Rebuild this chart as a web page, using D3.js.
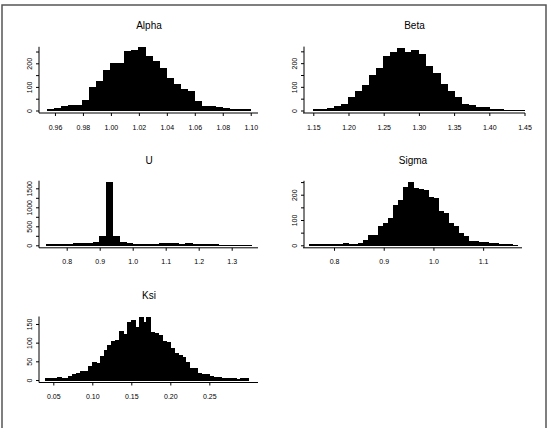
<!DOCTYPE html>
<html>
<head>
<meta charset="utf-8">
<script src="https://cdn.jsdelivr.net/npm/d3@7"></script>
<style>
  html, body { margin: 0; padding: 0; background: #fff; }
  svg { display: block; }
  text { font-family: "Liberation Sans", Arial, sans-serif; fill: #000; }
</style>
</head>
<body>
<svg id="chart" width="549" height="428"></svg>
<script>
// ---------------- DATA (bin counts) ----------------
const alphaStart = 0.955, alphaWidth = 0.005;
const alphaCounts = [4, 8, 18, 23, 23, 44, 96, 121, 168, 201, 201, 251, 255, 266, 230,
  206, 177, 135, 111, 89, 79, 37, 18, 15, 13, 8, 6, 4, 3];
const alphaXTicks = [0.96, 0.98, 1.00, 1.02, 1.04, 1.06, 1.08, 1.10];
const alphaYTicks = [0, 50, 100, 150, 200, 250];
const alphaYLabels = [0, 100, 200];

const betaStart = 1.15, betaWidth = 0.01;
const betaCounts = [3, 5, 7, 17, 26, 57, 79, 107, 150, 179, 229, 243, 264, 245, 255,
  236, 186, 157, 111, 79, 54, 26, 20, 14, 11, 4, 3, 2, 2, 1];
const betaXTicks = [1.15, 1.20, 1.25, 1.30, 1.35, 1.40, 1.45];
const betaYTicks = [0, 50, 100, 150, 200, 250];
const betaYLabels = [0, 100, 200];

const uStart = 0.74, uWidth = 0.02;
const uCounts = [10, 10, 12, 20, 50, 35, 40, 70, 230, 1640, 230, 70, 45, 15, 10, 15,
  25, 40, 55, 45, 30, 50, 30, 20, 15, 8, 5, 5, 3, 3, 2];
const uXTicks = [0.8, 0.9, 1.0, 1.1, 1.2, 1.3];
const uYTicks = [0, 250, 500, 750, 1000, 1250, 1500];
const uYLabels = [0, 500, 1000, 1500];

const sigmaStart = 0.75, sigmaWidth = 0.01;
const sigmaCounts = [4, 4, 4, 4, 3, 4, 5, 8, 5, 5, 6, 20, 40, 40, 73, 88, 104, 157, 177,
  230, 248, 226, 222, 216, 190, 184, 133, 124, 86, 75, 47, 33, 16, 15, 11, 12, 8, 6, 4, 3, 2, 1];
const sigmaXTicks = [0.8, 0.9, 1.0, 1.1];
const sigmaYTicks = [0, 50, 100, 150, 200, 250];
const sigmaYLabels = [0, 100, 200];

const ksiStart = 0.04, ksiWidth = 0.005;
const ksiCounts = [3, 3, 5, 6, 4, 5, 10, 16, 18, 22, 24, 35, 48, 45, 62, 80, 92, 103,
  105, 130, 123, 155, 160, 140, 168, 155, 168, 128, 125, 120, 102, 100, 85, 70, 65, 60,
  48, 32, 30, 18, 16, 14, 10, 8, 6, 5, 4, 3, 3, 2, 3, 4];
const ksiXTicks = [0.05, 0.10, 0.15, 0.20, 0.25];
const ksiYTicks = [0, 50, 100, 150];
const ksiYLabels = [0, 50, 100, 150];

// ---------------- LAYOUT ----------------
const svg = d3.select("#chart");

svg.append("rect")
  .attr("x", 2).attr("y", 5).attr("width", 544).attr("height", 430)
  .attr("fill", "none").attr("stroke", "#555").attr("stroke-width", 1.5);

const panels = [
  { title: "Alpha", start: alphaStart, width: alphaWidth, counts: alphaCounts,
    xTicks: alphaXTicks, yTicks: alphaYTicks, yLabels: alphaYLabels, fmt: d3.format(".2f"),
    px: [40, 258], dom: [0.9493, 1.1052], base: 110.5, yDom: 270, yTop: 46.8, axisX: 39 },
  { title: "Beta", start: betaStart, width: betaWidth, counts: betaCounts,
    xTicks: betaXTicks, yTicks: betaYTicks, yLabels: betaYLabels, fmt: d3.format(".2f"),
    px: [304, 525], dom: [1.1368, 1.4507], base: 110.5, yDom: 270, yTop: 46.6, axisX: 304 },
  { title: "U", start: uStart, width: uWidth, counts: uCounts,
    xTicks: uXTicks, yTicks: uYTicks, yLabels: uYLabels, fmt: d3.format(".1f"),
    px: [40, 258], dom: [0.7191, 1.3797], base: 245.3, yDom: 1700, yTop: 180.7, axisX: 39 },
  { title: "Sigma", start: sigmaStart, width: sigmaWidth, counts: sigmaCounts,
    xTicks: sigmaXTicks, yTicks: sigmaYTicks, yLabels: sigmaYLabels, fmt: d3.format(".1f"),
    px: [304, 522], dom: [0.7396, 1.1782], base: 245.3, yDom: 255, yTop: 180.8, axisX: 304 },
  { title: "Ksi", start: ksiStart, width: ksiWidth, counts: ksiCounts,
    xTicks: ksiXTicks, yTicks: ksiYTicks, yLabels: ksiYLabels, fmt: d3.format(".2f"),
    px: [40, 258], dom: [0.03295, 0.3124], base: 380, yDom: 170, yTop: 316.5, axisX: 39 }
];

panels.forEach(p => {
  const x = d3.scaleLinear().domain(p.dom).range(p.px);
  const y = d3.scaleLinear().domain([0, p.yDom]).range([p.base, p.yTop]);
  const g = svg.append("g");
  const axisY = p.base + 2.5;

  // title
  g.append("text")
    .attr("x", (p.px[0] + p.px[1]) / 2)
    .attr("y", axisY - 84)
    .attr("text-anchor", "middle")
    .attr("font-size", 10)
    .text(p.title);

  // bars
  g.selectAll("rect.bar")
    .data(p.counts)
    .join("rect")
    .attr("class", "bar")
    .attr("x", (d, i) => x(p.start + i * p.width))
    .attr("width", (d, i) => x(p.start + (i + 1) * p.width) - x(p.start + i * p.width))
    .attr("y", d => y(d))
    .attr("height", d => y(0) - y(d))
    .attr("fill", "#000")
    .attr("stroke", "#000")
    .attr("stroke-width", 1)
    .attr("shape-rendering", "crispEdges");

  // x axis
  const xa = g.append("g").attr("transform", `translate(0,${axisY})`)
    .call(d3.axisBottom(x).tickValues(p.xTicks).tickSizeOuter(0).tickSize(3)
      .tickFormat(p.fmt));
  xa.select(".domain").remove();
  xa.append("line").attr("x1", p.px[0] - 1).attr("x2", p.px[1]).attr("y1", 0).attr("y2", 0)
    .attr("stroke", "#000").attr("stroke-width", 1);
  xa.selectAll(".tick line").attr("stroke", "#000");
  xa.selectAll(".tick text")
    .attr("y", 16.5)
    .attr("dy", 0)
    .attr("font-size", 7)
    .attr("font-family", "Liberation Sans, Arial, sans-serif")
    .attr("fill", "#000");

  // y axis
  const ya = g.append("g").attr("transform", `translate(${p.axisX},0)`)
    .call(d3.axisLeft(y).tickValues(p.yTicks).tickSize(3).tickSizeOuter(0)
      .tickFormat(d => p.yLabels.includes(d) ? String(d) : ""));
  ya.select(".domain").remove();
  ya.append("line").attr("x1", 0).attr("x2", 0).attr("y1", axisY).attr("y2", p.yTop)
    .attr("stroke", "#000").attr("stroke-width", 1);
  ya.selectAll(".tick line").attr("stroke", "#000");
  ya.selectAll(".tick text")
    .attr("x", 0).attr("dy", 0)
    .attr("transform", "translate(-7.5,0) rotate(-90)")
    .attr("text-anchor", "middle")
    .attr("font-size", 7)
    .attr("font-family", "Liberation Sans, Arial, sans-serif")
    .attr("fill", "#000");
});
</script>
</body>
</html>
